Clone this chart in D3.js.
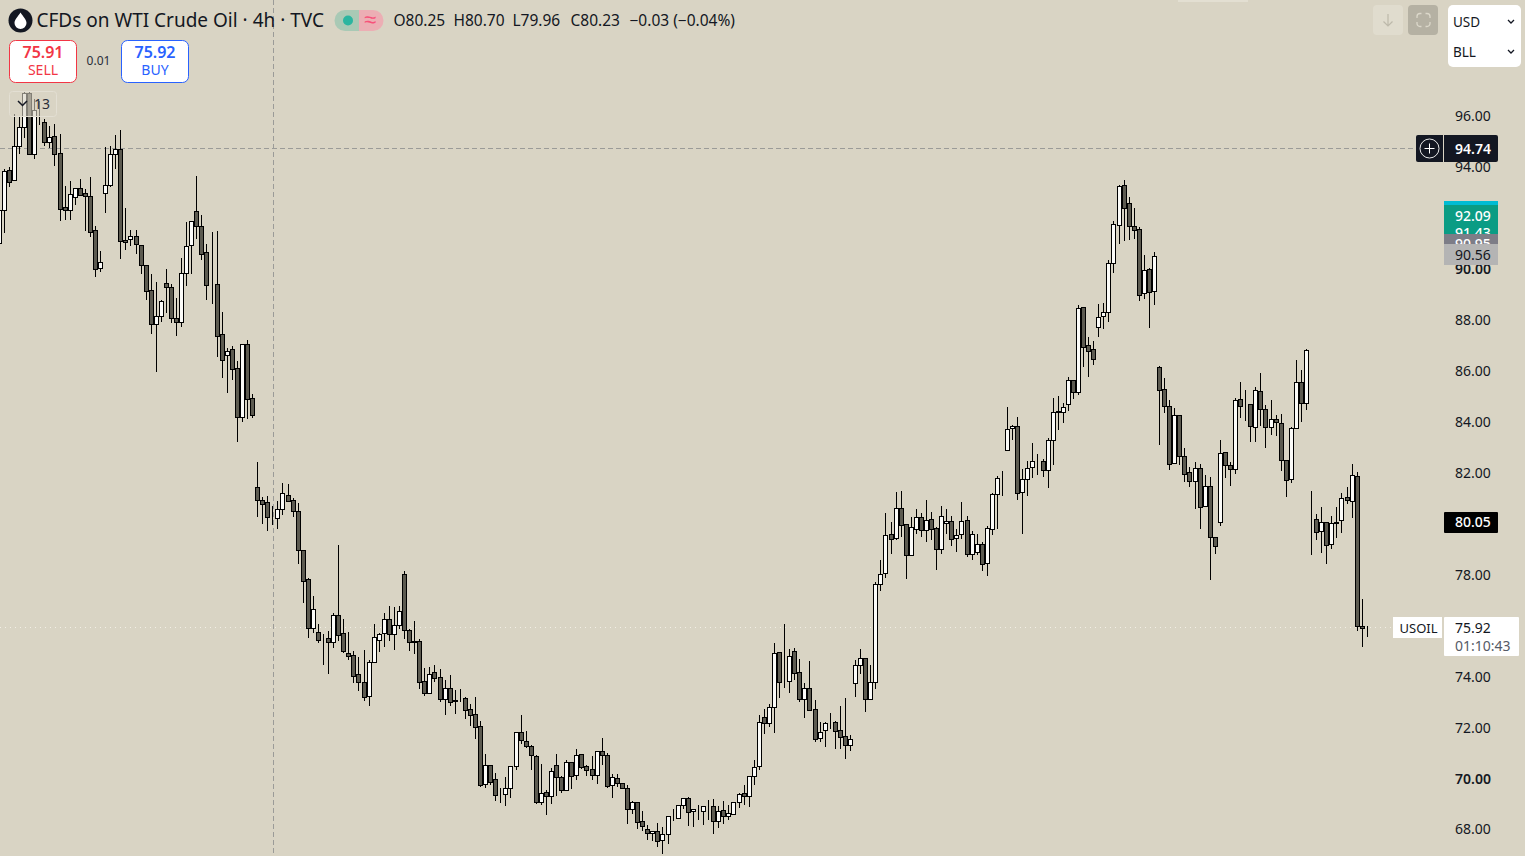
<!DOCTYPE html>
<html>
<head>
<meta charset="utf-8">
<script src="https://cdn.jsdelivr.net/npm/d3@7"></script>
<style>
  html, body { margin: 0; padding: 0; background: #d9d4c4; overflow: hidden; }
  svg { display: block; }
  text { font-family: "Noto Sans", sans-serif; fill: #131722; }
</style>
</head>
<body>
<svg id="chart" width="1525" height="856"></svg>
<script>
const opens = [90.99,92.28,93.85,93.46,94.82,95.56,96.88,94.48,96.20,95.74,
94.97,95.19,94.52,92.40,92.30,92.81,93.14,92.95,92.83,91.49,
90.02,92.97,93.29,94.48,94.68,91.10,91.14,91.26,90.90,90.12,
89.14,87.83,88.14,89.41,89.25,88.04,87.90,89.80,90.90,92.24,
91.65,90.63,89.33,89.37,87.41,86.61,86.82,86.07,84.15,87.02,
84.89,81.40,80.89,80.81,80.25,80.20,80.56,81.08,80.89,80.46,
78.92,77.79,75.88,75.70,75.43,75.47,75.33,76.37,75.66,74.88,
74.80,74.05,73.74,73.21,74.52,75.39,75.66,76.21,75.62,76.00,
77.98,75.78,75.35,75.35,73.78,73.31,74.13,73.94,73.07,73.50,
73.03,73.03,73.11,72.68,72.48,72.01,69.76,70.48,69.93,69.38,
69.34,69.58,70.44,71.78,71.42,71.23,70.83,69.06,69.42,69.26,
70.48,70.01,69.50,70.60,70.09,70.91,70.44,70.32,70.09,71.03,
70.87,69.69,69.97,69.77,69.61,68.77,69.06,68.28,68.00,67.81,
67.89,67.53,67.77,68.48,68.42,68.91,69.18,68.67,68.75,68.67,
68.87,68.87,68.30,68.71,68.51,68.55,69.06,69.38,69.26,70.05,
70.44,72.36,72.13,72.76,74.92,73.78,73.78,74.96,74.13,73.07,
73.50,72.68,71.54,71.85,72.17,72.17,71.85,71.62,71.26,73.70,
74.41,74.68,73.10,73.74,77.59,78.02,79.55,79.40,80.57,79.95,
78.73,79.75,80.22,79.71,80.14,79.79,78.96,79.98,80.06,79.40,
79.55,80.10,78.77,78.85,79.16,78.41,79.75,81.12,81.79,82.88,
83.72,83.79,81.20,81.71,82.18,82.42,82.42,82.07,83.25,84.38,
84.34,84.68,85.60,85.15,88.47,86.98,86.82,87.71,88.12,88.30,
90.22,91.71,93.26,92.55,91.65,91.53,89.02,89.96,89.10,86.11,
85.25,84.58,82.34,84.23,82.62,81.99,81.63,82.15,80.65,81.44,
79.43,80.02,82.77,82.26,82.11,84.86,84.62,84.66,83.76,85.17,
84.46,83.76,84.07,83.91,82.46,81.71,83.72,85.52,84.70,80.10,
80.14,79.67,80.02,79.16,80.02,80.10,81.01,80.85,81.83,75.96,75.90]

const closes = [92.29,93.81,93.38,94.82,95.56,96.88,94.48,96.22,96.20,94.97,
95.17,94.50,92.34,92.30,92.91,93.14,92.89,92.85,91.44,89.99,
90.24,93.26,94.48,94.68,91.06,91.05,91.26,90.94,90.14,89.12,
87.83,88.12,88.70,89.28,88.06,87.90,89.80,90.87,91.85,91.65,
90.57,89.33,89.33,87.35,86.41,86.76,86.06,84.15,87.02,84.88,
84.25,80.91,80.75,80.24,80.23,80.56,81.16,80.87,80.48,78.92,
77.73,75.86,76.61,75.41,75.43,75.33,76.37,75.61,74.98,74.78,
74.00,73.74,73.17,74.52,75.51,75.62,76.21,75.62,75.98,76.53,
75.78,75.31,75.31,73.74,73.31,74.05,73.90,73.07,73.50,72.95,
72.99,73.03,72.66,72.47,72.00,69.72,70.48,69.83,69.32,69.38,
69.58,70.44,71.78,71.46,71.23,70.87,69.06,69.38,69.26,70.24,
70.01,69.50,70.60,70.05,70.87,70.40,70.28,70.09,71.03,70.87,
69.65,70.01,69.77,69.61,68.77,69.06,68.26,68.08,67.81,67.89,
67.49,67.77,68.48,68.48,68.91,69.18,68.63,68.75,68.75,68.87,
68.87,68.28,68.67,68.51,68.59,69.06,69.34,69.26,70.05,70.40,
72.17,72.13,72.76,74.88,73.74,73.78,74.76,74.09,73.07,73.50,
72.64,71.50,71.78,72.13,72.17,71.81,71.58,71.26,71.50,74.41,
74.68,73.10,73.74,77.59,77.98,79.51,79.36,80.57,79.91,78.73,
79.83,80.22,79.71,80.10,79.75,78.96,80.26,80.06,79.36,79.51,
80.06,78.77,79.55,79.16,78.37,79.79,81.12,81.75,81.79,83.68,
83.79,81.16,81.71,82.15,82.42,82.42,82.07,83.25,84.34,84.34,
84.54,85.60,85.13,88.43,86.92,86.76,86.45,88.08,88.27,90.20,
91.73,93.22,92.36,91.65,91.49,88.96,89.92,89.06,90.47,85.23,
84.58,82.33,84.23,82.62,81.91,81.63,82.15,80.61,81.44,79.43,
79.10,82.73,82.26,82.11,84.82,84.58,84.62,83.79,85.21,84.46,
83.76,84.07,83.95,82.46,81.67,83.72,85.52,84.70,86.78,80.10,
79.63,80.02,79.12,79.98,79.98,80.97,80.89,81.87,75.94,75.86,75.92]

const highs = [92.40,93.93,94.02,96.11,96.02,97.00,97.00,96.70,96.61,95.89,
95.63,95.70,95.30,93.27,93.47,93.18,93.54,93.14,93.63,91.69,
90.72,94.81,94.84,95.28,95.47,92.40,91.54,91.54,90.91,90.17,
89.82,89.49,88.80,90.01,89.42,88.87,90.45,91.86,91.86,93.67,
92.13,90.98,91.47,91.51,88.32,86.90,86.99,86.40,87.03,87.22,
85.09,82.43,81.06,81.10,80.70,80.90,81.60,81.57,81.02,80.82,
78.98,77.88,77.17,76.07,75.68,75.79,76.49,79.17,76.26,75.75,
75.01,74.77,75.05,74.64,76.07,75.72,76.49,76.78,76.74,76.78,
78.14,75.87,76.19,75.48,74.34,74.38,74.46,74.29,73.87,74.07,
73.48,73.52,73.19,72.93,73.19,72.25,70.96,70.53,70.20,69.63,
70.06,70.45,71.83,72.49,71.85,71.32,70.91,70.57,69.55,70.40,
70.95,70.10,70.71,70.65,71.15,70.92,70.52,70.87,71.04,71.59,
70.99,70.16,70.16,69.81,69.73,69.10,69.08,68.72,68.16,67.96,
68.25,68.09,68.52,68.80,68.95,69.22,69.26,68.76,68.96,68.92,
69.14,69.19,68.92,69.10,68.95,69.06,69.42,69.74,70.09,70.71,
72.49,72.72,72.91,75.31,74.96,76.06,75.07,75.11,74.69,73.75,
74.60,73.07,72.21,72.21,72.56,72.25,72.85,73.15,71.70,74.64,
75.07,74.72,74.46,77.72,78.58,80.43,80.07,81.25,81.29,79.98,
80.27,80.59,80.43,80.94,80.47,79.87,80.69,80.59,80.31,79.79,
80.86,80.31,79.72,79.60,79.29,79.92,81.21,81.88,82.08,84.59,
83.89,84.20,82.16,82.47,83.18,82.75,82.54,83.37,84.95,85.02,
84.74,85.77,85.65,88.60,88.48,87.34,87.18,88.64,88.68,90.37,
91.89,93.31,93.51,92.83,92.41,91.65,90.56,90.05,90.68,86.20,
85.73,84.87,84.55,84.27,82.98,82.24,82.43,82.35,81.91,81.84,
79.49,83.30,82.82,82.42,84.95,85.57,85.26,84.71,85.38,85.93,
84.67,84.87,84.28,84.32,82.51,83.79,86.44,86.05,86.86,81.29,
80.39,80.66,80.03,80.31,80.66,81.20,81.45,82.35,82.04,77.05,75.99]

const lows = [90.99,91.44,93.23,93.46,94.54,95.17,94.48,94.35,95.67,94.84,
94.78,94.06,91.90,91.94,91.94,92.53,92.89,91.51,91.27,89.71,
89.90,92.22,93.23,93.95,90.41,90.76,90.92,90.60,89.82,88.80,
87.46,85.97,87.94,88.30,87.90,87.38,87.73,89.35,89.83,91.18,
90.38,88.80,88.64,86.56,85.74,85.14,85.65,83.23,84.00,84.13,
84.17,80.27,80.00,79.72,79.96,79.81,80.35,80.87,80.28,78.44,
76.89,75.53,75.73,75.33,74.46,74.12,75.14,75.40,74.93,74.67,
73.75,73.44,73.04,72.85,74.52,74.97,75.17,75.40,75.05,75.87,
75.48,75.01,74.89,73.52,73.24,73.31,73.79,73.01,72.51,72.86,
72.53,73.01,72.34,72.06,71.55,69.68,69.63,69.76,69.12,69.04,
68.92,69.23,70.33,71.35,71.21,70.33,69.00,68.96,68.57,69.00,
69.31,69.43,69.50,69.59,69.94,70.37,70.09,69.94,69.78,70.53,
69.63,69.23,69.67,69.59,68.21,68.59,68.02,67.94,67.58,67.54,
67.31,67.03,67.43,68.33,68.42,68.80,68.13,68.09,68.37,68.17,
68.37,67.82,68.06,68.21,68.37,68.55,68.84,68.96,68.88,69.76,
70.35,71.75,72.01,71.79,73.16,73.54,73.36,73.87,73.01,72.38,
72.64,71.43,71.43,71.24,71.94,71.16,71.16,70.77,71.08,73.20,
74.12,72.62,73.10,73.53,77.38,77.88,78.83,79.36,79.49,77.84,
78.73,79.60,79.49,79.29,79.37,78.19,78.82,79.60,79.13,78.90,
79.40,78.70,78.58,78.78,78.15,77.95,79.56,79.80,81.10,82.88,
83.30,80.94,79.60,81.10,81.80,81.92,81.84,81.41,82.31,83.69,
83.96,84.44,84.91,85.06,86.16,85.77,86.24,87.34,87.66,87.93,
89.86,90.99,91.11,91.15,91.19,88.76,88.83,87.70,88.60,83.10,
84.36,82.12,82.34,82.31,81.65,81.45,80.59,79.80,80.65,77.80,
78.82,79.92,81.80,81.49,81.96,84.16,84.04,83.22,83.22,83.85,
82.98,83.49,83.45,82.08,81.06,81.61,83.72,84.00,84.47,78.78,
79.37,78.86,78.43,79.01,79.45,79.64,80.78,80.23,75.79,75.17,75.56]

const tickValues = [68,70,72,74,76,78,80,82,84,86,88,90,92,94,96]
const boldTicks = [70,90]
const hoverIndex = 54   // candle under the crosshair
const hoverPrice = 94.74
const lastPrice = 75.92
const legendValues = ["O80.25","H80.70","L79.96","C80.23","\u22120.03 (\u22120.04%)"]

const svg = d3.select("#chart")
const W = 1525, H = 856

const x = d3.scaleLinear().domain([0, opens.length-1]).range([-0.77, 1367.3])
const y = d3.scaleLinear().domain([68,96]).range([828.5,115.5])
const px = v => Math.floor(v)+0.5
const py = v => Math.round(y(v))+0.5

svg.append("rect").attr("width",W).attr("height",H).attr("fill","#d9d4c4")

// price axis goes first, the price labels cover it
const axis = svg.append("g").attr("transform","translate(1443,1)")
  .call(d3.axisRight(y).tickValues(tickValues).tickSize(0).tickPadding(12).tickFormat(d3.format(".2f")))
axis.select(".domain").remove()
axis.selectAll("text").style("font-family",'"Noto Sans", sans-serif').style("font-size","14px").attr("fill","#131722")
  .style("font-weight",d=>boldTicks.includes(d)?"600":"400")

// last price dotted line
svg.append("line").attr("x1",0).attr("x2",1392).attr("y1",py(lastPrice)).attr("y2",py(lastPrice))
  .attr("stroke","#f2efe6").attr("stroke-dasharray","1,4")

// crosshair
svg.append("line").attr("x1",273.5).attr("x2",273.5).attr("y1",0).attr("y2",853)
  .attr("stroke","#9b9b98").attr("stroke-dasharray","5,3")
svg.append("line").attr("x1",0).attr("x2",1415).attr("y1",148.5).attr("y2",148.5)
  .attr("stroke","#9b9b98").attr("stroke-dasharray","5,3")

// candles
const idx = d3.range(opens.length)
const candles = svg.append("g").attr("shape-rendering","crispEdges")
candles.selectAll(".wick").data(idx).join("line").attr("class","wick")
  .attr("x1",i=>px(x(i))).attr("x2",i=>px(x(i)))
  .attr("y1",i=>py(highs[i])).attr("y2",i=>py(lows[i]))
  .attr("stroke","#000")
candles.selectAll(".body").data(idx).join("rect").attr("class","body")
  .attr("x",i=>px(x(i))-2).attr("width",4)
  .attr("y",i=>py(Math.max(opens[i],closes[i])))
  .attr("height",i=>Math.abs(py(opens[i])-py(closes[i])))
  .attr("fill",i=>closes[i]>=opens[i]?"#fbfbf8":"#5c5a50")
  .attr("stroke","#000")

// legend
const logo = svg.append("g").attr("transform","translate(20.5,20.5)")
logo.append("circle").attr("r",12).attr("fill","#131722")
logo.append("path").attr("d","M0,-8 C2.5,-4 6,-1 6,2.5 A6,6 0 0 1 -6,2.5 C-6,-1 -2.5,-4 0,-8 Z").attr("fill","#fff")

svg.append("text").attr("x",36.5).attr("y",27).style("font-size","19px").text("CFDs on WTI Crude Oil \u00b7 4h \u00b7 TVC")

svg.append("path").attr("d","M345,10 H359 V31 H345 A10.5,10.5 0 0 1 345,10 Z").attr("fill","#a9c9b5")
svg.append("path").attr("d","M359,10 H373 A10.5,10.5 0 0 1 373,31 H359 Z").attr("fill","#ecaeb4")
svg.append("circle").attr("cx",348).attr("cy",20.5).attr("r",5).attr("fill","#2bb5a0")
svg.append("text").attr("x",370).attr("y",27).attr("text-anchor","middle").style("font-size","22px").style("fill","#f7527a").text("\u2248")

const legendX = [393.5,453.5,512.5,570.5,629.5]
svg.selectAll(".legend").data(legendValues).join("text").attr("class","legend")
  .attr("x",(d,i)=>legendX[i]).attr("y",26).style("font-size","15.5px").text(d=>d)

// sell / buy
function tradeBox(bx, price, label, col){
  svg.append("rect").attr("x",bx).attr("y",40.5).attr("width",67).attr("height",42).attr("rx",6)
    .attr("fill","#fff").attr("stroke",col)
  svg.append("text").attr("x",bx+33.5).attr("y",58).attr("text-anchor","middle")
    .style("font-size","16px").style("font-weight","600").style("fill",col).text(price)
  svg.append("text").attr("x",bx+33.5).attr("y",75).attr("text-anchor","middle")
    .style("font-size","14px").style("fill",col).text(label)
}
tradeBox(9.5,"75.91","SELL","#f23645")
tradeBox(121.5,"75.92","BUY","#2962ff")
svg.append("text").attr("x",98.5).attr("y",65).attr("text-anchor","middle").style("font-size","12px").style("fill","#2a2e39").text("0.01")

// collapsed indicators box
svg.append("rect").attr("x",9.5).attr("y",91.5).attr("width",47).attr("height",25).attr("rx",3)
  .attr("fill","#d9d4c4").attr("fill-opacity",0.6).attr("stroke","#e3dfd3")
svg.append("path").attr("d","M18,101 L22.5,105.5 L27,101").attr("fill","none").attr("stroke","#131722").attr("stroke-width",1.5)
svg.append("text").attr("x",34).attr("y",109).style("font-size","14px").style("fill","#2a2e39").text("13")

// top right controls
svg.append("rect").attr("x",1178).attr("y",0).attr("width",70).attr("height",2).attr("fill","#e3dfd2")
svg.append("rect").attr("x",1373).attr("y",5).attr("width",30).attr("height",30).attr("rx",4).attr("fill","#e0dcce")
svg.append("path").attr("d","M1388,14 V26 M1383.5,21.5 L1388,26 L1392.5,21.5").attr("fill","none").attr("stroke","#bdb9aa").attr("stroke-width",1.2)
svg.append("rect").attr("x",1408).attr("y",5).attr("width",30).attr("height",30).attr("rx",4).attr("fill","#b5b1a3")
svg.append("path").attr("d","M1417,18 V16.5 A3,3 0 0 1 1420,13.5 H1421.5 M1425.5,13.5 H1427 A3,3 0 0 1 1430,16.5 V18 M1430,22 V23.5 A3,3 0 0 1 1427,26.5 H1425.5 M1421.5,26.5 H1420 A3,3 0 0 1 1417,23.5 V22")
  .attr("fill","none").attr("stroke","#dcd8ca").attr("stroke-width",1.3)

svg.append("rect").attr("x",1448).attr("y",5).attr("width",73).attr("height",62).attr("rx",5).attr("fill","#fff")
svg.append("text").attr("x",1453).attr("y",27).style("font-size","13.5px").text("USD")
svg.append("text").attr("x",1453).attr("y",57).style("font-size","13.5px").text("BLL")
svg.append("path").attr("d","M1508,20 L1511,23 L1514,20 M1508,50 L1511,53 L1514,50").attr("fill","none").attr("stroke","#131722").attr("stroke-width",1.3)

// price labels, later ones sit on the earlier ones
function priceText(ly, txt, col, weight){
  svg.append("text").attr("x",1455).attr("y",ly+5).style("font-size","14px")
    .style("font-weight",weight||"400").style("fill",col).text(txt)
}
svg.append("rect").attr("x",1444).attr("y",201).attr("width",54).attr("height",5).attr("fill","#00bcd4")
svg.append("rect").attr("x",1444).attr("y",205).attr("width",54).attr("height",30).attr("fill","#0a9c84")
priceText(215.5,"92.09","#fff","500")
priceText(232.5,"91.43","#fff","500")
svg.append("rect").attr("x",1444).attr("y",234).attr("width",54).attr("height",11).attr("fill","#7d7d87")
priceText(244,"90.95","#fff","500")
svg.append("rect").attr("x",1444).attr("y",244).attr("width",54).attr("height",21).attr("fill","#b4b4b4")
priceText(254.5,"90.56","#131722")

svg.append("rect").attr("x",1444).attr("y",512).attr("width",54).attr("height",21).attr("rx",1).attr("fill","#000")
priceText(522,"80.05","#fff","500")

svg.append("rect").attr("x",1416).attr("y",135).attr("width",82).attr("height",27).attr("rx",2).attr("fill","#131722")
svg.append("rect").attr("x",1443).attr("y",135).attr("width",1).attr("height",27).attr("fill","#d9d4c4")
svg.append("circle").attr("cx",1429.5).attr("cy",148.5).attr("r",9.5).attr("fill","none").attr("stroke","#e8e8e8")
svg.append("path").attr("d","M1424.5,148.5 H1434.5 M1429.5,143.5 V153.5").attr("stroke","#fff")
priceText(148.5,d3.format(".2f")(hoverPrice),"#fff","600")

svg.append("rect").attr("x",1393).attr("y",617).attr("width",49).attr("height",21).attr("fill","#fff")
svg.append("text").attr("x",1399.5).attr("y",632.5).style("font-size","13px").text("USOIL")
svg.append("rect").attr("x",1444).attr("y",617).attr("width",75).attr("height",39).attr("rx",1).attr("fill","#fff")
priceText(627.5,d3.format(".2f")(lastPrice),"#131722")
priceText(646,"01:10:43","#555a66")
</script>
</body>
</html>
